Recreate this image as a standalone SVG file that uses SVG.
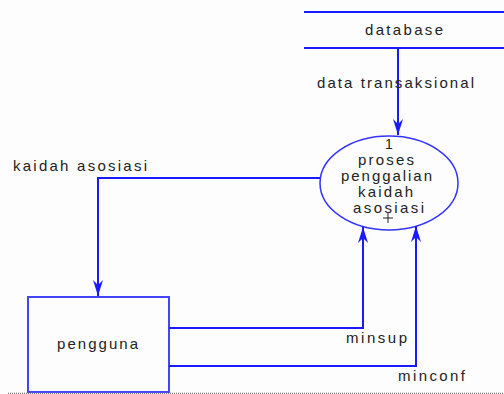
<svg xmlns="http://www.w3.org/2000/svg" width="504" height="394" viewBox="0 0 504 394">
<defs>
<style>
text{font-family:"Liberation Sans",Arial,sans-serif;font-size:15px;fill:#222}
.ln{fill:none;stroke:#1a1aff;stroke-width:2}
.thin{fill:none;stroke:#3333ff;stroke-width:1.5}
</style>
<marker id="ah" viewBox="0 0 16 10" refX="16" refY="5" markerWidth="16" markerHeight="10" markerUnits="userSpaceOnUse" orient="auto">
<path d="M16 5 L0 0 L5 5 L0 10 Z" fill="#1a1aff"/>
</marker>
</defs>
<rect width="504" height="394" fill="#fcfdfc"/>
<g id="database">
<line class="ln" x1="304" y1="12" x2="504" y2="12"/>
<line class="ln" x1="304" y1="48" x2="504" y2="48"/>
<text x="365" y="35" textLength="78" lengthAdjust="spacing">database</text>
</g>
<g id="proses">
<ellipse class="thin" cx="389" cy="183" rx="69" ry="47"/>
<text x="385" y="149" style="font-size:14px">1</text>
<text x="358" y="165" textLength="56" lengthAdjust="spacing">proses</text>
<text x="341" y="181" textLength="91" lengthAdjust="spacing">penggalian</text>
<text x="358" y="197" textLength="55" lengthAdjust="spacing">kaidah</text>
<text x="353" y="213" textLength="71" lengthAdjust="spacing">asosiasi</text>
<path d="M383 218 H393 M388 213 V223" stroke="#222" stroke-width="1"/>
</g>
<g id="pengguna">
<rect x="28" y="297" width="141" height="95" fill="none" stroke="#4444ff" stroke-width="2"/>
<text x="57" y="349" textLength="81" lengthAdjust="spacing">pengguna</text>
</g>
<g id="connectors">
<path class="ln" d="M398 48 V135" marker-end="url(#ah)"/>
<path class="ln" d="M320 178 H98 V296" marker-end="url(#ah)"/>
<path class="ln" d="M169 328 H363 V227" marker-end="url(#ah)"/>
<path class="ln" d="M169 366 H416 V226" marker-end="url(#ah)"/>
<text x="317" y="88" textLength="157" lengthAdjust="spacing">data transaksional</text>
<text x="13" y="171" textLength="134" lengthAdjust="spacing">kaidah asosiasi</text>
<text x="346" y="343" textLength="61" lengthAdjust="spacing">minsup</text>
<text x="398" y="381" textLength="67" lengthAdjust="spacing">minconf</text>
</g>
<line x1="8" y1="393.5" x2="504" y2="393.5" stroke="#777" stroke-width="1.5" stroke-dasharray="1 1"/>
</svg>
